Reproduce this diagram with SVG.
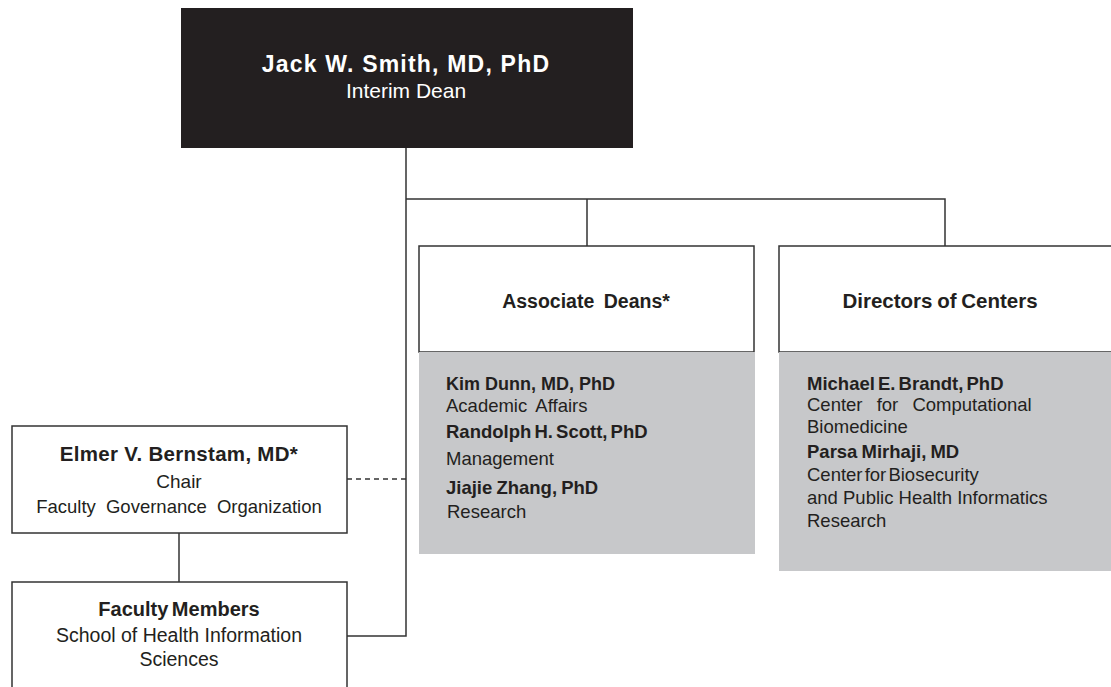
<svg xmlns="http://www.w3.org/2000/svg" width="1111" height="687" viewBox="0 0 1111 687">
<style>
text{font-family:"Liberation Sans",Arial,sans-serif;fill:#231f20}
.b{font-weight:bold}
.c{text-anchor:middle}
.box{fill:#fff;stroke:#333;stroke-width:1.5}
.gray{fill:#c7c8ca}
.ln{stroke:#333;stroke-width:1.5;fill:none}
.dash{stroke-dasharray:5 4}
.w{fill:#fff}
</style>
<rect width="1111" height="687" fill="#fff"/>
<g id="connectors">
<path class="ln" d="M406 148V636H347"/>
<path class="ln" d="M406 199H945V246M587 199V246"/>
<path class="ln dash" d="M347 479H406"/>
<path class="ln" d="M179 533V582"/>
</g>
<g id="dean">
<rect x="181" y="8" width="452" height="140" fill="#231f20"/>
<text class="b c w" x="406" y="72" font-size="23" letter-spacing="1.2">Jack W. Smith, MD, PhD</text>
<text class="c w" x="406" y="98" font-size="21">Interim Dean</text>
</g>
<g id="associate-deans">
<rect class="box" x="419" y="246" width="335" height="106"/>
<rect class="gray" x="419" y="352" width="336" height="202"/>
<text class="b c" x="586" y="308" font-size="19.5" word-spacing="4">Associate Deans*</text>
<text class="b" x="446" y="390" font-size="18">Kim Dunn, MD, PhD</text>
<text x="446" y="412" font-size="18.5" word-spacing="4">Academic Affairs</text>
<text class="b" x="446" y="438" font-size="18.5" word-spacing="-2">Randolph H. Scott, PhD</text>
<text x="446" y="465" font-size="18.5">Management</text>
<text class="b" x="446" y="494" font-size="18.5" word-spacing="-1">Jiajie Zhang, PhD</text>
<text x="447" y="518" font-size="18.5">Research</text>
</g>
<g id="directors">
<rect class="box" x="779" y="246" width="340" height="106"/>
<rect class="gray" x="779" y="352" width="332" height="219"/>
<text class="b c" x="940" y="308" font-size="20.5" word-spacing="-1">Directors of Centers</text>
<text class="b" x="807" y="390" font-size="18.5" word-spacing="-2">Michael E. Brandt, PhD</text>
<text x="807" y="411" font-size="18.5" word-spacing="9">Center for Computational</text>
<text x="807" y="433" font-size="18.5">Biomedicine</text>
<text class="b" x="807" y="458" font-size="18.5" word-spacing="-1">Parsa Mirhaji, MD</text>
<text x="807" y="481" font-size="18.5" word-spacing="-3">Center for Biosecurity</text>
<text x="807" y="504" font-size="18.5">and Public Health Informatics</text>
<text x="807" y="527" font-size="18.5">Research</text>
</g>
<g id="chair">
<rect class="box" x="12" y="426" width="335" height="107"/>
<text class="b c" x="179" y="461" font-size="20.5" letter-spacing="0.3">Elmer V. Bernstam, MD*</text>
<text class="c" x="179" y="488" font-size="19">Chair</text>
<text class="c" x="179" y="513" font-size="18.5" word-spacing="5">Faculty Governance Organization</text>
</g>
<g id="faculty">
<rect class="box" x="12" y="582" width="335" height="120"/>
<text class="b c" x="179" y="616" font-size="20" word-spacing="-2">Faculty Members</text>
<text class="c" x="179" y="642" font-size="19.5">School of Health Information</text>
<text class="c" x="179" y="666" font-size="19.5">Sciences</text>
</g>
</svg>
